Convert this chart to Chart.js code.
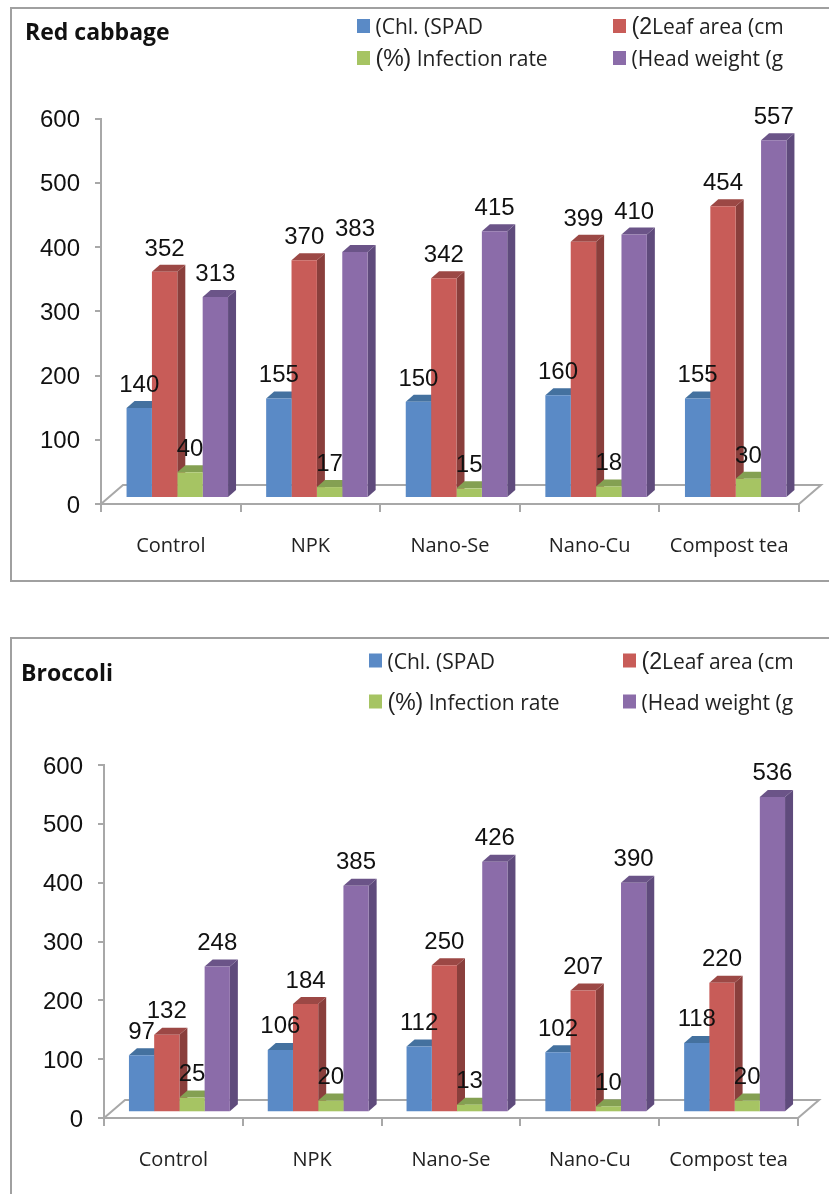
<!DOCTYPE html>
<html><head><meta charset="utf-8">
<script src="https://cdn.jsdelivr.net/npm/chart.js@4"></script>
<style>html,body{margin:0;padding:0;background:#fff;overflow:hidden}canvas{position:absolute;left:0}</style>
</head><body>
<canvas id="c1" style="top:0px" width="829" height="600"></canvas>
<canvas id="c2" style="top:600px" width="829" height="594"></canvas>
<script>
const categories = ["Control","NPK","Nano-Se","Nano-Cu","Compost tea"];
const yTicks = [0,100,200,300,400,500,600];
const legendLead = ["","(2","(%)",""];
const legendRest = ["(Chl. (SPAD","Leaf area (cm"," Infection rate","(Head weight (g"];

const cabbageChl = [140,155,150,160,155];
const cabbageLeaf = [352,370,342,399,454];
const cabbageInfection = [40,17,15,18,30];
const cabbageHead = [313,383,415,410,557];

const broccoliChl = [97,106,112,102,118];
const broccoliLeaf = [132,184,250,207,220];
const broccoliInfection = [25,20,13,10,20];
const broccoliHead = [248,385,426,390,536];

const faceColors = ["#5A8AC6","#C85C58","#A6C463","#8B6CA9"];
const sideColors = ["#3F6A99","#8A3F3C","#7F9A4E","#5F4B7C"];
const topColors  = ["#44719F","#9C4845","#84A052","#6B5488"];
const AXIS = "#A8A8A8";
const NUM_FONT = "Liberation Sans";
const TXT_FONT = "Open Sans";

function drawRuns(ctx, x, y, lead, rest){
  ctx.textAlign = "left"; ctx.textBaseline = "alphabetic"; ctx.fillStyle = "#222";
  if (lead){
    ctx.font = "23px '"+NUM_FONT+"'";
    ctx.fillText(lead, x, y);
    x += ctx.measureText(lead).width;
  }
  ctx.font = "21px '"+TXT_FONT+"'";
  ctx.fillText(rest, x, y);
}

const bars3d = {
  id: "bars3d",
  beforeDraw(chart, a, o){
    const c = chart.ctx; c.save();
    c.fillStyle = "#fff"; c.fillRect(0,0,chart.width,chart.height);
    c.strokeStyle = "#A0A0A0"; c.lineWidth = 2;
    c.beginPath();
    c.moveTo(chart.width+2, o.frame.top);
    c.lineTo(o.frame.left, o.frame.top);
    c.lineTo(o.frame.left, o.frame.bottom);
    if (o.frame.closed) c.lineTo(chart.width+2, o.frame.bottom);
    c.stroke();
    c.fillStyle = "#111"; c.textAlign = "left"; c.textBaseline = "alphabetic";
    c.font = "bold "+o.titleSize+"px '"+TXT_FONT+"'";
    c.fillText(o.title, o.titleX, o.titleY);
    chart.data.datasets.forEach((d,i)=>{
      const lx = o.legendX[i%2], ly = o.legendY[i>>1];
      c.fillStyle = d.backgroundColor;
      c.fillRect(lx, ly-7, 13, 14);
      drawRuns(c, lx+18.5, ly+8, legendLead[i], legendRest[i]);
    });
    c.restore();
  },
  beforeDatasetsDraw(chart, a, o){
    const c = chart.ctx, ar = chart.chartArea, y0 = chart.scales.y.getPixelForValue(0);
    const dx = o.depthX, dy = o.depthY;
    c.save(); c.strokeStyle = AXIS; c.lineWidth = 2;
    c.beginPath();
    c.moveTo(ar.left, y0); c.lineTo(ar.left+o.floorX, y0-o.floorY);
    c.lineTo(ar.right+o.floorX, y0-o.floorY); c.lineTo(ar.right, y0);
    c.stroke();
    c.translate(o.shiftX, o.shiftY);
    chart.data.datasets.forEach((ds,i)=>{
      chart.getDatasetMeta(i).data.forEach(el=>{
        const l = el.x-el.width/2, r = el.x+el.width/2, t = el.y, b = el.base;
        c.fillStyle = sideColors[i];
        c.beginPath(); c.moveTo(r,t); c.lineTo(r+dx,t-dy); c.lineTo(r+dx,b-dy); c.lineTo(r,b); c.closePath(); c.fill();
        c.fillStyle = topColors[i];
        c.beginPath(); c.moveTo(l,t); c.lineTo(l+dx,t-dy); c.lineTo(r+dx,t-dy); c.lineTo(r,t); c.closePath(); c.fill();
      });
    });
    c.restore();
  },
  beforeDatasetDraw(chart, args, o){
    chart.ctx.save();
    chart.ctx.translate(o.shiftX, o.shiftY);
  },
  afterDatasetDraw(chart){ chart.ctx.restore(); },
  afterDatasetsDraw(chart, a, o){
    const c = chart.ctx; c.save();
    c.fillStyle = "#111"; c.textAlign = "center"; c.textBaseline = "alphabetic";
    c.font = o.labelSize+"px '"+NUM_FONT+"'";
    chart.data.datasets.forEach((ds,i)=>{
      chart.getDatasetMeta(i).data.forEach((el,k)=> c.fillText(String(ds.data[k]), el.x+o.shiftX, el.y+o.shiftY-o.labelGap));
    });
    c.restore();
  }
};

function makeChart(id, series, opt){
  return new Chart(document.getElementById(id), {
    type: "bar",
    data: {
      labels: categories,
      datasets: series.map((s,i)=>({
        label: legendLead[i]+legendRest[i], data: s,
        backgroundColor: faceColors[i],
        categoryPercentage: 0.727, barPercentage: 1, borderWidth: 0, clip: false
      }))
    },
    options: {
      responsive:false, animation:false, devicePixelRatio:1,
      layout:{padding:{top:opt.top,right:opt.right,left:0,bottom:0}},
      plugins:{legend:{display:false},title:{display:false},tooltip:{enabled:false},bars3d:opt.p},
      scales:{
        x:{
          afterFit(s){ s.height = opt.xHeight; },
          grid:{offset:true,drawOnChartArea:false,drawTicks:true,tickLength:8,color:AXIS,lineWidth:2},
          border:{color:AXIS,width:2},
          ticks:{color:"#222",padding:opt.xPad,maxRotation:0,font:{family:TXT_FONT,size:20}}
        },
        y:{
          min:0,max:600,
          afterFit(s){
            s.width = opt.yWidth;
            if(!s._shifted){
              s._shifted = true;
              const orig = s.drawLabels.bind(s);
              s.drawLabels = area => { s.ctx.save(); s.ctx.translate(0,2); orig(area); s.ctx.restore(); };
            }
          },
          afterBuildTicks(s){ s.ticks = yTicks.map(v=>({value:v})); },
          grid:{drawOnChartArea:false,drawTicks:true,tickLength:6,color:AXIS,lineWidth:2},
          border:{color:AXIS,width:2},
          ticks:{color:"#111",padding:15,font:{family:NUM_FONT,size:24}}
        }
      }
    },
    plugins:[bars3d]
  });
}

makeChart("c1",[cabbageChl,cabbageLeaf,cabbageInfection,cabbageHead],{
  top:118.5,right:30,xHeight:96,yWidth:101,xPad:22,
  p:{title:"Red cabbage",titleSize:23,titleX:25,titleY:40,
     frame:{left:11,top:8,bottom:581,closed:true},
     legendX:[357,613],legendY:[26,58],
     floorX:22,floorY:19,depthX:8,depthY:7,shiftX:6.5,shiftY:-6,labelGap:16,labelSize:24}
});
makeChart("c2",[broccoliChl,broccoliLeaf,broccoliInfection,broccoliHead],{
  top:165,right:31,xHeight:76,yWidth:104,xPad:22,
  p:{title:"Broccoli",titleSize:23,titleX:21,titleY:81,
     frame:{left:11,top:38,bottom:700,closed:false},
     legendX:[369,623],legendY:[60.5,101.5],
     floorX:21,floorY:18,depthX:8,depthY:7,shiftX:6,shiftY:-5.7,labelGap:16.5,labelSize:24}
});
</script>
</body></html>
